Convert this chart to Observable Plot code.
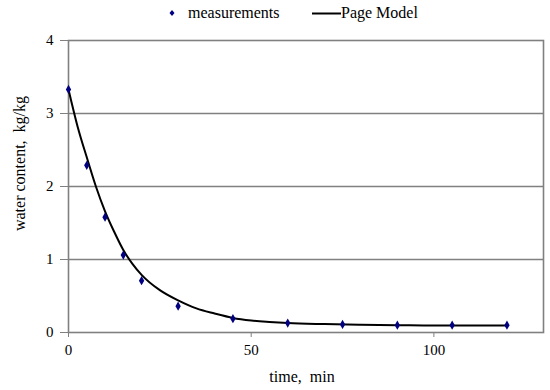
<!DOCTYPE html>
<html>
<head>
<meta charset="utf-8">
<script src="https://cdn.jsdelivr.net/npm/d3@7"></script>
<script src="https://cdn.jsdelivr.net/npm/@observablehq/plot@0.6"></script>
<style>
  body { margin: 0; background: #fff; font-family: 'Liberation Serif', serif; }
  #legend { position: relative; width: 550px; height: 30px; font-size: 16px; }
  #legend span { position: absolute; top: 4px; line-height: 18px; white-space: pre; }
  #legend svg { position: absolute; }
  #chart svg, #chart svg text { font-family: 'Liberation Serif', serif !important; }
</style>
</head>
<body>
<div id="legend">
  <svg style="left:167px; top:8px" width="10" height="10"><path d="M5,2L7.5,5L5,8L2.5,5Z" fill="#000080"/></svg>
  <span style="left:188px">measurements</span>
  <svg style="left:312px; top:12px" width="29" height="3"><line x1="0" y1="1.5" x2="29" y2="1.5" stroke="black" stroke-width="2"/></svg>
  <span style="left:341px">Page Model</span>
</div>
<div id="chart"></div>
<script>
// measurements
const measTime = [0, 5, 10, 15, 20, 30, 45, 60, 75, 90, 105, 120];
const measWater = [3.33, 2.29, 1.58, 1.06, 0.71, 0.36, 0.19, 0.13, 0.11, 0.10, 0.10, 0.10];
// Page model curve
const modelTime = [0, 2.5, 5, 7.5, 10, 12.5, 15, 17.5, 20, 25, 30, 35, 40, 45, 50, 55, 60, 70, 80, 90, 100, 110, 120];
const modelWater = [3.33, 2.82, 2.40, 2.00, 1.66, 1.38, 1.13, 0.94, 0.79, 0.58, 0.44, 0.33, 0.26, 0.20, 0.165, 0.145, 0.13, 0.115, 0.105, 0.10, 0.095, 0.095, 0.095];
const xTicks = [0, 50, 100];
const yTicks = [0, 1, 2, 3, 4];
const gridTicks = [1, 2, 3];
const xLabel = "time,\u00a0 min";
const yLabel = "water content,\u00a0 kg/kg";

const meas = measTime.map((t, i) => ({t, w: measWater[i]}));
const model = modelTime.map((t, i) => ({t, w: modelWater[i]}));
const ff = "Liberation Serif";

const chart = Plot.plot({
  width: 550,
  height: 360,
  marginLeft: 68,
  marginRight: 7,
  marginTop: 10,
  marginBottom: 58,
  style: {fontFamily: ff, fontSize: "15px", background: "#fff"},
  x: {domain: [0, 130]},
  y: {domain: [0, 4]},
  marks: [
    Plot.gridY(gridTicks, {stroke: "#808080", strokeOpacity: 1, strokeWidth: 1.3}),
    Plot.frame({stroke: "#808080", strokeWidth: 1.6}),
    Plot.axisY(yTicks, {tickSize: 8, tickPadding: 7, label: null, tickFormat: d3.format("d"), stroke: "#808080", fill: "black", fontSize: 15, fontFamily: ff}),
    Plot.axisX(xTicks, {tickSize: 5, tickPadding: 7, label: null, tickFormat: d3.format("d"), stroke: "#808080", fill: "black", fontSize: 15, fontFamily: ff}),
    Plot.line(model, {x: "t", y: "w", curve: "monotone-x", stroke: "black", strokeWidth: 2}),
    Plot.dot(meas, {x: "t", y: "w", symbol: "diamond", fill: "#000080", stroke: "none", r: 2.8}),
    Plot.text([yLabel], {frameAnchor: "left", text: d => d, textAnchor: "middle", lineAnchor: "middle", dx: -49, dy: -23, rotate: -90, fontSize: 16, fontFamily: ff, fill: "black"}),
    Plot.text([xLabel], {frameAnchor: "bottom", text: d => d, textAnchor: "middle", lineAnchor: "middle", dx: -4, dy: 44, fontSize: 16, fontFamily: ff, fill: "black"})
  ]
});
d3.select(chart).selectAll("text").style("font-family", "'Liberation Serif', serif");
document.getElementById("chart").appendChild(chart);
</script>
</body>
</html>
